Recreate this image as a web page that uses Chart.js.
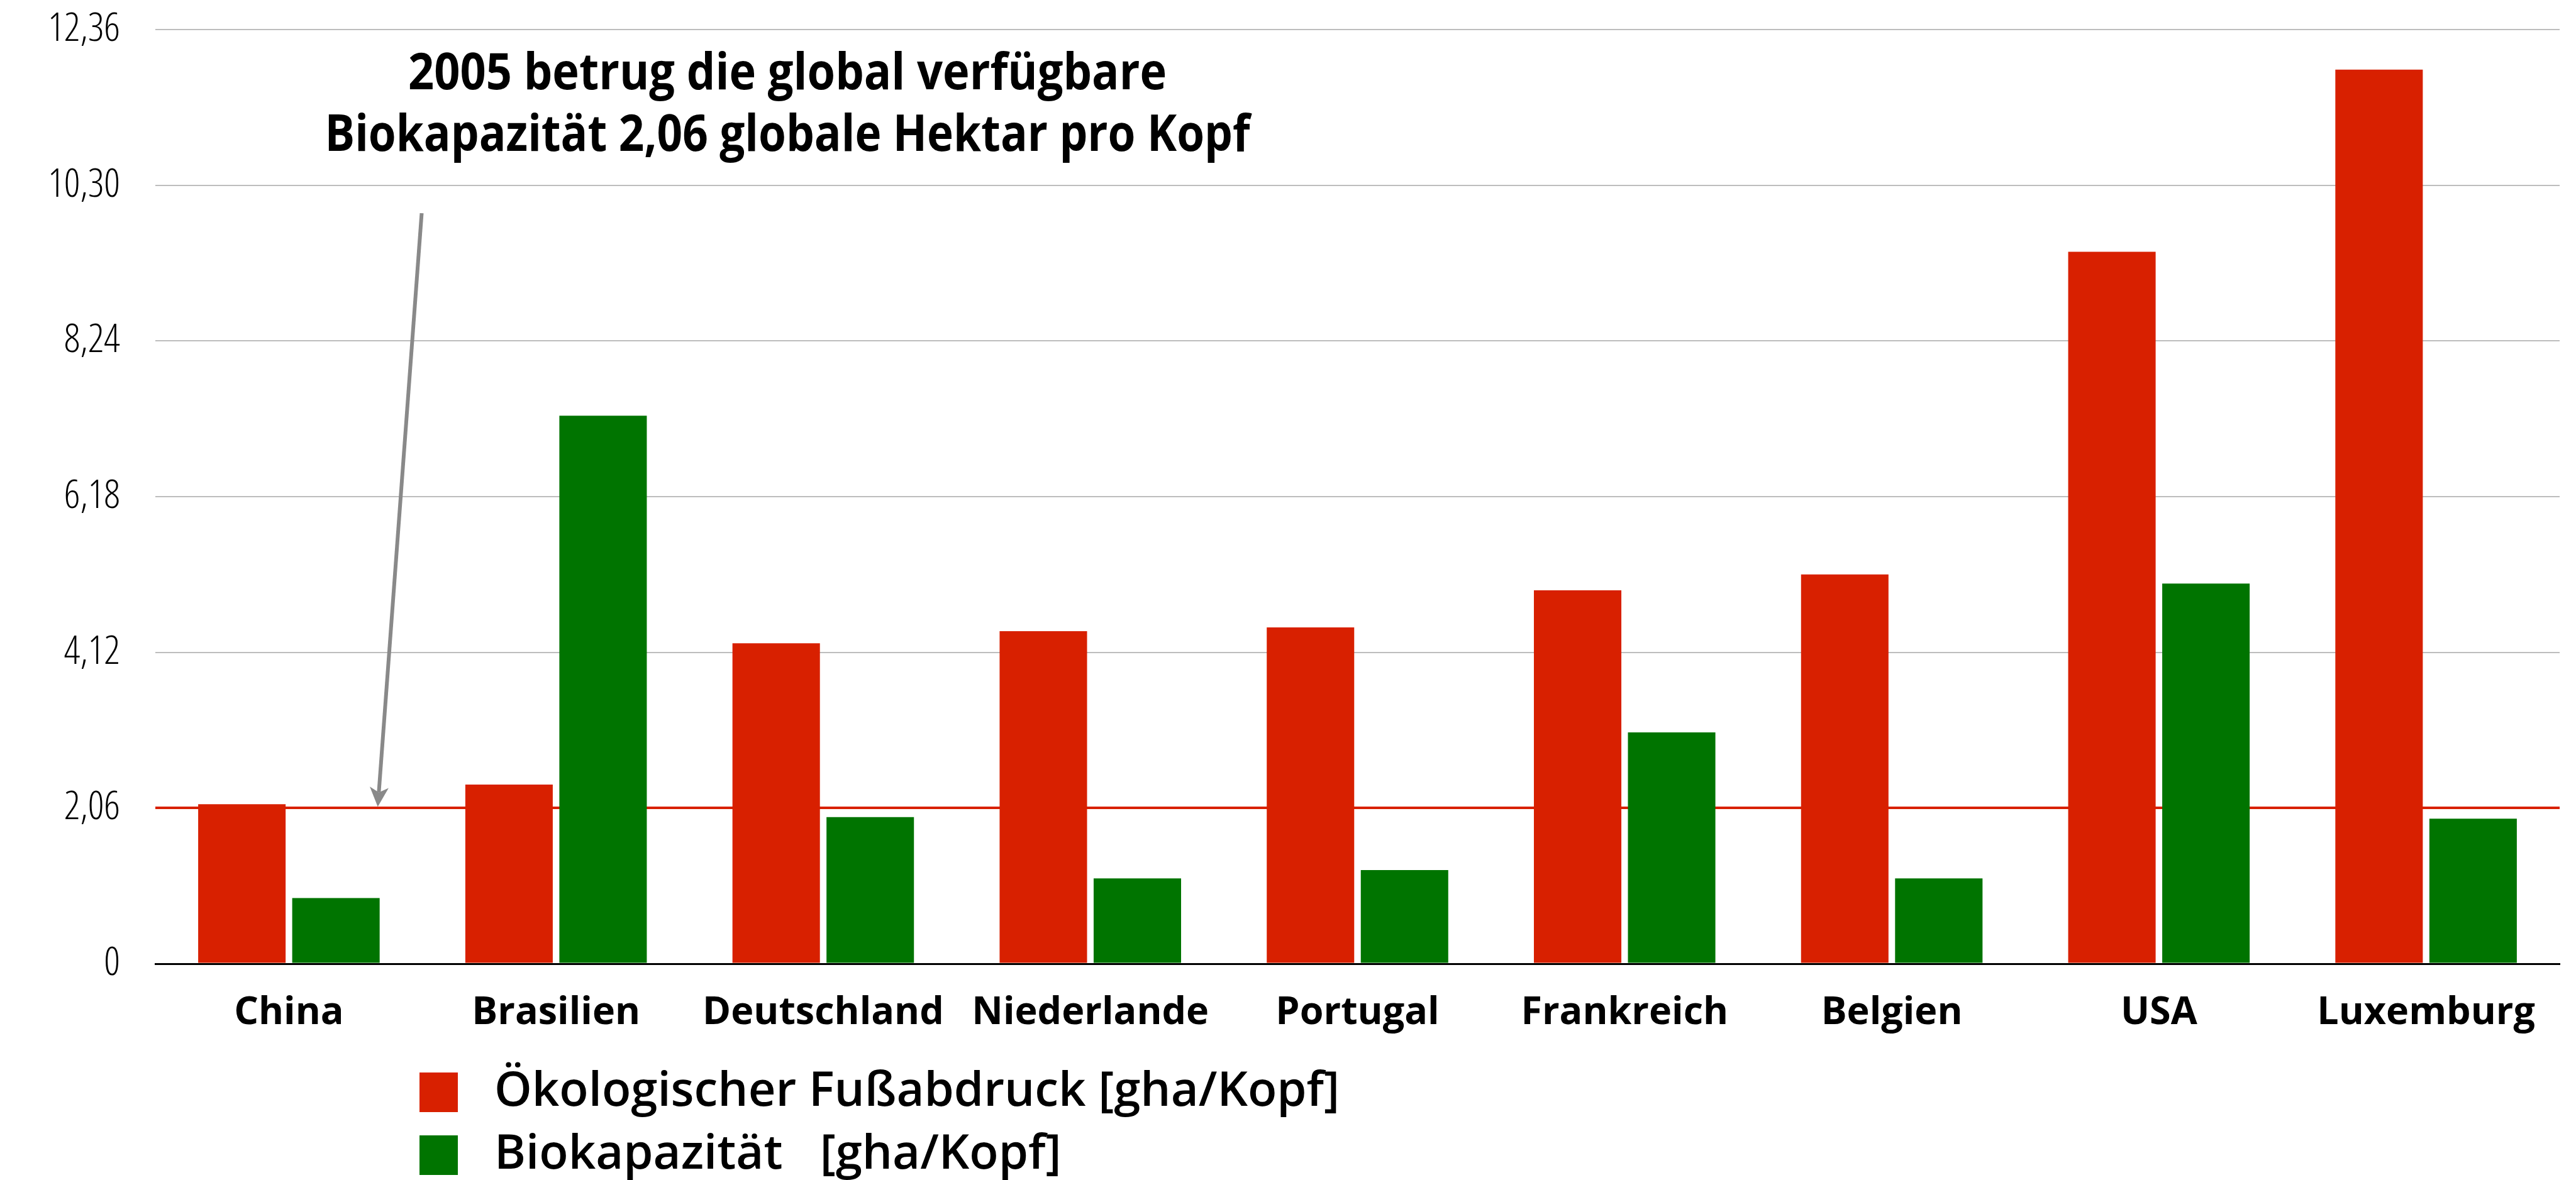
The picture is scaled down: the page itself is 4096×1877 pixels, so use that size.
<!DOCTYPE html>
<html>
<head>
<meta charset="utf-8">
<script src="https://cdn.jsdelivr.net/npm/chart.js@4.4.1/dist/chart.umd.min.js"></script>
<style>
  html, body { margin: 0; padding: 0; background: #ffffff; overflow: hidden; }
  canvas { display: block; }
</style>
</head>
<body>
<canvas id="c" width="4096" height="1877" style="width:4096px;height:1877px"></canvas>
<script>
// ---------- data ----------
const categories = ['China', 'Brasilien', 'Deutschland', 'Niederlande', 'Portugal', 'Frankreich', 'Belgien', 'USA', 'Luxemburg'];
const footprint = [2.11, 2.37, 4.24, 4.40, 4.45, 4.94, 5.15, 9.42, 11.83];
const biocapacity = [0.87, 7.25, 1.94, 1.13, 1.24, 3.06, 1.13, 5.03, 1.92];
const seriesLabels = ['Ökologischer Fußabdruck [gha/Kopf]', 'Biokapazität   [gha/Kopf]'];
const yTickValues = [0, 2.06, 4.12, 6.18, 8.24, 10.30, 12.36];
const globalBiocapacity = 2.06;
const annotationLines = ['2005 betrug die global verfügbare', 'Biokapazität 2,06 globale Hektar pro Kopf'];

// ---------- styling ----------
const RED = '#d82000';
const GREEN = '#007400';
const GRID = '#bdbdbd';
const ARROW = '#898989';
const seriesColors = [RED, GREEN];

// legend swatches (61 x 63 squares)
function swatch(color) {
  const c = document.createElement('canvas');
  c.width = 61; c.height = 63;
  const g = c.getContext('2d');
  g.fillStyle = color; g.fillRect(0, 0, 61, 63);
  return c;
}
const swatches = seriesColors.map(swatch);

const annotationPlugin = {
  id: 'annotation',
  afterDraw(chart) {
    const ctx = chart.ctx;
    const xs = chart.scales.x, ys = chart.scales.y;
    const from = [0.497, 9.93];
    const to = [0.3326, globalBiocapacity];
    const x0 = xs.getPixelForValue(from[0]), y0 = ys.getPixelForValue(from[1]);
    const x1 = xs.getPixelForValue(to[0]), y1 = ys.getPixelForValue(to[1]) - 2;
    const ang = Math.atan2(y1 - y0, x1 - x0);
    const c = Math.cos(ang), s = Math.sin(ang);
    const L = 31, W = 15, notch = 8;
    ctx.save();
    ctx.strokeStyle = ARROW;
    ctx.lineWidth = 6;
    ctx.beginPath();
    ctx.moveTo(x0, y0);
    ctx.lineTo(x1 - c * (L - notch), y1 - s * (L - notch));
    ctx.stroke();
    const wx = x1 - c * L, wy = y1 - s * L;
    ctx.fillStyle = ARROW;
    ctx.beginPath();
    ctx.moveTo(x1, y1);
    ctx.lineTo(wx - s * W, wy + c * W);
    ctx.lineTo(x1 - c * (L - notch), y1 - s * (L - notch));
    ctx.lineTo(wx + s * W, wy - c * W);
    ctx.closePath();
    ctx.fill();
    ctx.fillStyle = '#000000';
    ctx.font = 'bold 80px "Open Sans"';
    ctx.textAlign = 'center';
    ctx.textBaseline = 'alphabetic';
    ctx.fillText(annotationLines[0], 1252, 142, 1206);
    ctx.fillText(annotationLines[1], 1252, 240, 1471);
    ctx.restore();
  }
};

const legendPlacer = {
  id: 'legendPlacer',
  afterLayout(chart) {
    const lg = chart.legend;
    if (!lg) return;
    lg.left = 623; lg.right = 4096;
    lg.top = 1675.5; lg.bottom = 1990;
    lg.width = lg.right - lg.left; lg.height = lg.bottom - lg.top;
  }
};

const X_AXIS_H = 130;
const chart = new Chart(document.getElementById('c'), {
  type: 'bar',
  data: {
    labels: categories,
    datasets: [
      { label: seriesLabels[0], data: footprint, backgroundColor: seriesColors[0], borderWidth: 0 },
      { label: seriesLabels[1], data: biocapacity, backgroundColor: seriesColors[1], borderWidth: 0 }
    ]
  },
  options: {
    responsive: false,
    devicePixelRatio: 1,
    animation: false,
    events: [],
    categoryPercentage: 0.704,
    barPercentage: 0.93,
    layout: { autoPadding: false, padding: { left: 0, top: 47, right: 26, bottom: 1877 - 1533 - X_AXIS_H } },
    plugins: {
      tooltip: { enabled: false },
      legend: {
        position: 'chartArea',
        align: 'start',
        labels: {
          usePointStyle: true,
          pointStyleWidth: 101,
          boxHeight: 63,
          padding: 24,
          color: '#000000',
          font: { family: '"Open Sans"', size: 76, weight: '600' },
          generateLabels(chart) {
            const items = Chart.defaults.plugins.legend.labels.generateLabels(chart);
            items.forEach((it, i) => { it.pointStyle = swatches[i]; });
            return items;
          }
        }
      }
    },
    scales: {
      x: {
        grid: { display: false, drawTicks: false },
        border: { display: true, color: '#000000', width: 3 },
        ticks: {
          color: '#000000',
          padding: 42,
          maxRotation: 0,
          autoSkip: false,
          font: { family: '"Open Sans"', size: 61, weight: 'bold' }
        },
        afterFit(scale) { scale.height = X_AXIS_H; }
      },
      y: {
        min: 0,
        max: 12.36,
        afterBuildTicks(scale) { scale.ticks = yTickValues.map(v => ({ value: v })); },
        grid: {
          drawTicks: false,
          color: (ctx) => ctx.tick && ctx.tick.value === globalBiocapacity ? RED : (ctx.tick && ctx.tick.value === 0 ? '#000000' : GRID),
          lineWidth: (ctx) => ctx.tick && ctx.tick.value === globalBiocapacity ? 4 : (ctx.tick && ctx.tick.value === 0 ? 3 : 2)
        },
        border: { display: false },
        ticks: {
          color: '#000000',
          padding: 56,
          font: { family: '"Open Sans"', size: 63, weight: '300 condensed' },
          callback: (v) => v === 0 ? '0' : Number(v).toFixed(2).replace('.', ',')
        },
        afterFit(scale) {
          scale.width = 247;
          scale.paddingTop = 0;
          scale.paddingBottom = 0;
        }
      }
    }
  },
  plugins: [legendPlacer, annotationPlugin]
});
</script>
</body>
</html>
